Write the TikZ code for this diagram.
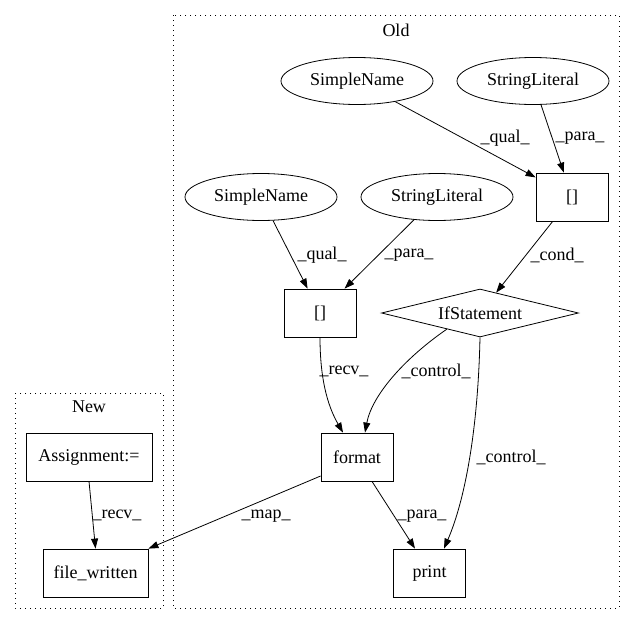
\documentclass[tikz,border=0pt]{standalone}
\usepackage{fontspec}
\setmainfont{Liberation Serif}
\usetikzlibrary{arrows.meta,shapes.geometric}

\begin{document}
\begin{tikzpicture}[x=1pt,y=-1pt,>={Triangle[length=10pt,width=7pt]},
  every node/.style={font=\fontsize{18pt}{20pt}\selectfont},
  ast/.style={ellipse,draw,line width=0.8pt,inner sep=0pt,
    minimum width=152pt,minimum height=47pt},
  op/.style={rectangle,draw,line width=0.8pt,
    minimum width=72pt,minimum height=48pt},
  cond/.style={diamond,draw,line width=0.8pt,aspect=4,inner sep=0pt,
    minimum width=197pt,minimum height=48pt},
  flow/.style={->,line width=0.8pt},
  lbl/.style={inner sep=0pt},
  cluster/.style={line width=0.8pt,dash pattern=on 1pt off 4pt}]
  \useasboundingbox (0,0) rectangle (635,624);
  %
  % Clusters
  \draw[cluster] (173,15) rectangle (619,608);
  \node (oldlabel) at (396,30) {Old};
  \draw[cluster] (15,393) rectangle (163,608);
  \node (newlabel) at (89,407) {New};
  %
  % Old nodes
  \node[ast] (name1) at (357,81) {SimpleName};
  \node[ast] (str1) at (533,81) {StringLiteral};
  \node[op] (idx1) at (572,197) {[]};
  \node[ast] (name2) at (261,197) {SimpleName};
  \node[ast] (str2) at (437,197) {StringLiteral};
  \node[op] (idx2) at (320,313) {[]};
  \node[cond] (ifst) at (480,313) {IfStatement};
  \node[op] (format) at (357,457) {format};
  \node[op] (print) at (429.5,573) {print};
  %
  % New nodes
  \node[op,minimum width=126pt] (assign) at (89,457) {Assignment:=};
  \node[op,minimum width=105pt] (written) at (95.5,573) {file\_written};
  %
  % Edges
  \draw[flow] (name1) -- (idx1) node[lbl] (e1) at (505,138) {\_qual\_};
  \draw[flow] (str1) -- (idx1) node[lbl] (e2) at (580,138) {\_para\_};
  \draw[flow] (name2) -- (idx2) node[lbl] (e3) at (322,255) {\_qual\_};
  \draw[flow] (str2) -- (idx2) node[lbl] (e4) at (409,255) {\_para\_};
  \draw[flow] (idx1) -- (ifst) node[lbl] (e5) at (557,255) {\_cond\_};
  \draw[flow] (idx2.south) .. controls (320,385) and (330,410) .. ([xshift=-14pt]format.north)
    node[lbl] (e6) at (344,371) {\_recv\_};
  \draw[flow] (ifst.206) .. controls (405,358) and (372,395) .. ([xshift=8pt]format.north)
    node[lbl] (e7) at (436,371) {\_control\_};
  \draw[flow] (ifst.south) .. controls (478,430) and (465,500) .. ([xshift=14.5pt]print.north)
    node[lbl] (e8) at (511,457) {\_control\_};
  \draw[flow] ([xshift=15pt]format.south) -- ([xshift=-14.5pt]print.north)
    node[lbl] (e9) at (422,516) {\_para\_};
  \draw[flow] ([yshift=-19pt]format.west) -- (written.north east)
    node[lbl] (e10) at (266,516) {\_map\_};
  \draw[flow] (assign.south) -- (written.north)
    node[lbl] (e11) at (117,515) {\_recv\_};
  %
\end{tikzpicture}
\end{document}
